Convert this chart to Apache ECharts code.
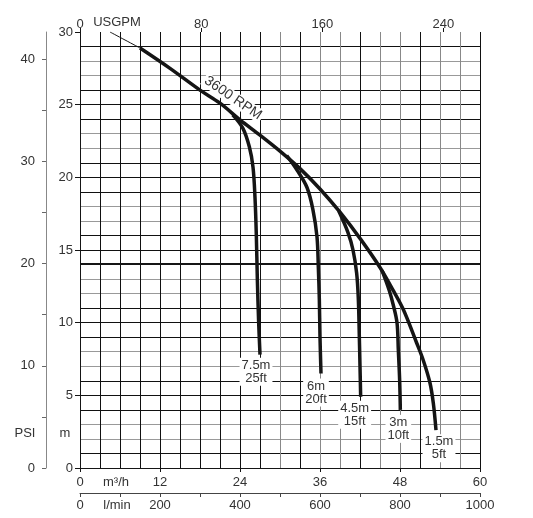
<!DOCTYPE html>
<html>
<head>
<meta charset="utf-8">
<script src="https://cdn.jsdelivr.net/npm/echarts@6/dist/echarts.min.js"></script>
<style>
  html, body { margin: 0; padding: 0; background: #fff; }
  #chart { width: 533px; height: 518px; }
</style>
</head>
<body>
<div id="chart"></div>
<script>
    // flow in m3/h, head in m
    var M_PER_PSI = 0.70307;
    var USGPM_PER_M3H = 4.40287;
    var FLOW_MAX = 60, HEAD_MAX = 30, LPM_MAX = 1000;
    var PSI_REF = 20;

    var flowTicks = [0, 12, 24, 36, 48, 60];
    var lpmLabels = [0, 200, 400, 600, 800, 1000];
    var gpmTicks = [0, 80, 160, 240];
    var headTicks = [0, 5, 10, 15, 20, 25, 30];
    var psiTicks = [0, 5, 10, 15, 20, 25, 30, 35, 40];
    var psiLabels = [0, 10, 20, 30, 40];

    var rpmThin = [[4.5, 30.0], [9, 28.9]];
    var rpmCurve = [[9, 28.9], [13.5, 27.5], [18, 26.0], [21, 25.1], [24, 23.95], [27, 22.9], [30, 21.8],
        [33, 20.6], [36, 19.2], [39, 17.6], [42, 15.8], [45, 13.8], [47, 12.2], [48.5, 10.9],
        [50.5, 8.6], [51.5, 7.4], [52.5, 5.85], [53, 4.45], [53.4, 2.6]];
    var curve75 = [[22.9, 24.3], [24.4, 23.4], [25.4, 22.1], [25.95, 20.7], [26.25, 18.6], [26.45, 16.0],
        [26.6, 13.0], [26.8, 10.0], [27, 7.8]];
    var curve6 = [[31.0, 21.5], [32.55, 20.5], [34.05, 19.3], [34.95, 17.75], [35.55, 15.9], [35.75, 13.8],
        [35.9, 11.6], [36.0, 9.0], [36.15, 6.5]];
    var curve45 = [[38.8, 17.7], [40.2, 16.2], [40.95, 15.0], [41.5, 13.4], [41.75, 11.6], [41.9, 9.0],
        [42.0, 7.0], [42.1, 4.9]];
    var curve3 = [[45.3, 13.6], [46.4, 12.2], [47.0, 11.2], [47.55, 10.0], [47.75, 8.1], [47.95, 6.0], [48.05, 4.0]];
    var depthNames = ['7.5m\n25ft', '6m\n20ft', '4.5m\n15ft', '3m\n10ft', '1.5m\n5ft'];
    var labelShift = [[-4, 3], [-5, 5], [-6, 4], [-2, 5], [3, 4]];

    var FONT = 'Liberation Sans';
    var TXT = '#333';
    var BLK = '#151515';

    var myChart = echarts.init(document.getElementById('chart'));

    function plain(v) { return String(v); }

    function curveSeries(points, idx, width) {
        var s = {
            type: 'line',
            xAxisIndex: 0,
            yAxisIndex: 0,
            smooth: 0.35,
            symbol: 'none',
            silent: true,
            lineStyle: { color: BLK, width: width },
            data: points
        };
        if (idx !== null) {
            s.endLabel = {
                show: true,
                formatter: depthNames[idx],
                align: 'center',
                verticalAlign: 'top',
                distance: 0,
                offset: labelShift[idx],
                fontFamily: FONT,
                fontSize: 13,
                lineHeight: 13,
                color: TXT,
                backgroundColor: '#fff',
                padding: [1, 2]
            };
        }
        return s;
    }

    var vColors = ['#111', '#111', '#111', '#111', '#111', '#111', '#111', '#111', '#111', '#111',
        '#888', '#111', '#888', '#888', '#111', '#888', '#888', '#111', '#888', '#888', '#111'];
    var hColors = ['#111', '#111', '#999', '#999', '#111'];

    var mainSeries = curveSeries(rpmCurve, 4, 3.5);
    mainSeries.markLine = {
        symbol: 'none',
        silent: true,
        label: { show: false },
        lineStyle: { color: BLK, width: 2, type: 'solid' },
        data: [{ yAxis: PSI_REF * M_PER_PSI }]
    };

    var option = {
        animation: false,
        textStyle: { fontFamily: FONT },
        grid: { left: 80, right: 53, top: 32, bottom: 50 },
        xAxis: [
            {
                type: 'value', position: 'bottom', min: 0, max: FLOW_MAX, interval: 12,
                axisLine: { show: true, onZero: false, lineStyle: { color: BLK } },
                axisTick: { show: true, length: 4, lineStyle: { color: BLK } },
                axisLabel: { margin: 8, color: TXT, fontSize: 13, customValues: flowTicks, formatter: plain },
                splitLine: { show: false }
            },
            {
                type: 'value', position: 'bottom', min: 0, max: FLOW_MAX, interval: 3,
                axisLine: { show: false }, axisTick: { show: false }, axisLabel: { show: false },
                splitLine: { show: true, lineStyle: { color: vColors, width: 1 } }
            },
            {
                type: 'value', position: 'bottom', offset: 25, min: 0, max: LPM_MAX, interval: 100,
                axisLine: { show: true, onZero: false, lineStyle: { color: '#444' } },
                axisTick: { show: true, length: 4, lineStyle: { color: '#444' } },
                axisLabel: { margin: 6, color: TXT, fontSize: 13, customValues: lpmLabels, formatter: plain },
                splitLine: { show: false }
            },
            {
                type: 'value', position: 'top', min: 0, max: FLOW_MAX * USGPM_PER_M3H,
                axisLine: { show: false, onZero: false },
                axisTick: { show: true, length: 4, customValues: gpmTicks, lineStyle: { color: BLK } },
                axisLabel: { margin: 1, color: TXT, fontSize: 13, customValues: gpmTicks, formatter: plain },
                splitLine: { show: false }
            }
        ],
        yAxis: [
            {
                type: 'value', position: 'left', min: 0, max: HEAD_MAX, interval: 5,
                axisLine: { show: true, onZero: false, lineStyle: { color: BLK } },
                axisTick: { show: true, length: 5, customValues: headTicks, lineStyle: { color: BLK } },
                axisLabel: { margin: 7, color: TXT, fontSize: 13, customValues: headTicks, formatter: plain },
                splitLine: { show: false }
            },
            {
                type: 'value', position: 'left', min: 0, max: HEAD_MAX, interval: 1,
                axisLine: { show: false }, axisTick: { show: false }, axisLabel: { show: false },
                splitLine: { show: true, showMaxLine: false, lineStyle: { color: hColors, width: 1 } }
            },
            {
                type: 'value', position: 'left', offset: 34, min: 0, max: HEAD_MAX / M_PER_PSI,
                axisLine: { show: true, onZero: false, lineStyle: { color: '#888' } },
                axisTick: { show: true, length: 4, customValues: psiTicks, lineStyle: { color: '#666' } },
                axisLabel: { margin: 11, color: TXT, fontSize: 13, customValues: psiLabels, formatter: plain },
                splitLine: { show: false }
            }
        ],
        graphic: [
            { type: 'text', x: 25, y: 433, style: { text: 'PSI', font: '13px ' + FONT, fill: TXT, textAlign: 'center', textVerticalAlign: 'middle' } },
            { type: 'text', x: 65, y: 433, style: { text: 'm', font: '13px ' + FONT, fill: TXT, textAlign: 'center', textVerticalAlign: 'middle' } },
            { type: 'text', x: 116, y: 482, style: { text: 'm³/h', font: '13px ' + FONT, fill: TXT, textAlign: 'center', textVerticalAlign: 'middle' } },
            { type: 'text', x: 117, y: 505, style: { text: 'l/min', font: '13px ' + FONT, fill: TXT, textAlign: 'center', textVerticalAlign: 'middle' } },
            { type: 'text', x: 117, y: 22, style: { text: 'USGPM', font: '13px ' + FONT, fill: TXT, textAlign: 'center', textVerticalAlign: 'middle' } },
            {
                type: 'text', x: 233, y: 98, rotation: -0.6, z: 10,
                style: { text: '3600 RPM', font: '14px ' + FONT, fill: TXT, textAlign: 'center', textVerticalAlign: 'middle', backgroundColor: '#fff', padding: [0, 2] }
            }
        ],
        series: [
            curveSeries(rpmThin, null, 1),
            mainSeries,
            curveSeries(curve75, 0, 3.5),
            curveSeries(curve6, 1, 3.5),
            curveSeries(curve45, 2, 3.5),
            curveSeries(curve3, 3, 3.5)
        ]
    };

    myChart.setOption(option);
</script>
</body>
</html>
